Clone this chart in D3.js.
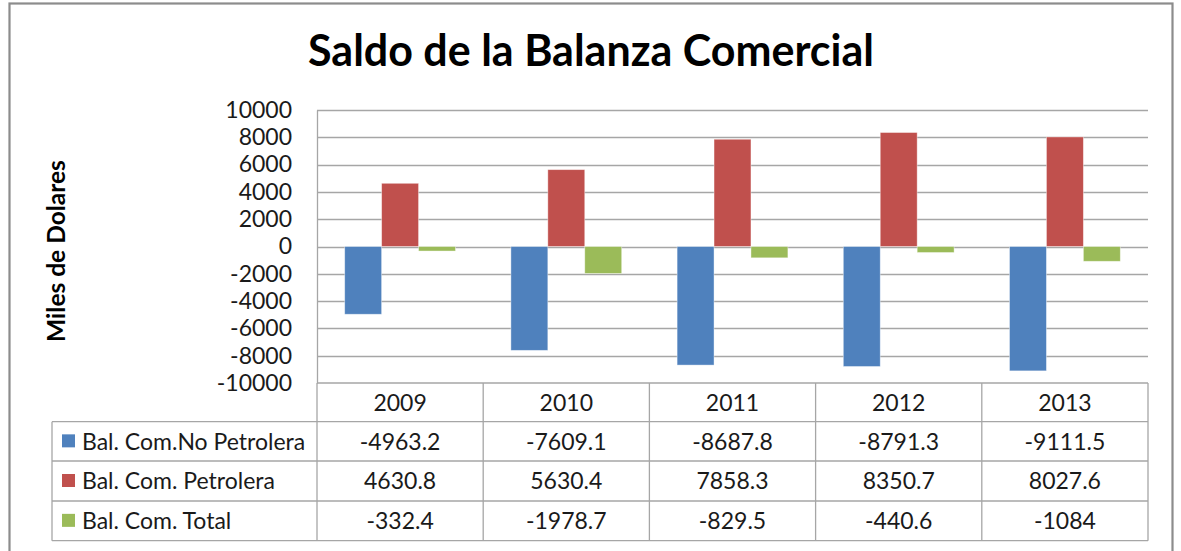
<!DOCTYPE html>
<html>
<head>
<meta charset="utf-8">
<script src="https://cdn.jsdelivr.net/npm/d3@7"></script>
<style>
	body { margin: 0; background: #fff; }
	svg { display: block; font-family: Lato, "Noto Sans", sans-serif; }
	.grid line { stroke: #a6a6a6; stroke-width: 1.3px; }
	.tbl line { stroke: #a6a6a6; stroke-width: 1.3px; }
</style>
</head>
<body>
<div id="chart"></div>
<script>
var years = ["2009", "2010", "2011", "2012", "2013"];
var seriesNames = ["Bal. Com.No Petrolera", "Bal. Com. Petrolera", "Bal. Com. Total"];
var noPetrolera = [-4963.2, -7609.1, -8687.8, -8791.3, -9111.5];
var petrolera = [4630.8, 5630.4, 7858.3, 8350.7, 8027.6];
var total = [-332.4, -1978.7, -829.5, -440.6, -1084];
var yTicks = [-10000, -8000, -6000, -4000, -2000, 0, 2000, 4000, 6000, 8000, 10000];
var color = ["#4F81BD", "#C0504D", "#9BBB59"];

var width = 1181;
var height = 551;
var fontSize = "23px";

function draw() {
	var values = [noPetrolera, petrolera, total];

	var plot = {left: 317, right: 1148, top: 110, bottom: 383};
	var rowTops = [383, 421.7, 461, 501, 540.7];
	var legendLeft = 52;

	var svg = d3.select("#chart").append("svg")
		.attr("width", width)
		.attr("height", height);

	// outer frame
	svg.append("rect")
		.attr("x", 9.5).attr("y", 3.5)
		.attr("width", 1163).attr("height", 560)
		.attr("fill", "none")
		.attr("stroke", "#8c8c8c")
		.attr("stroke-width", 2.2);

	/* Scales */
	var x0 = d3.scaleBand()
		.domain(years)
		.range([plot.left, plot.right])
		.padding(0);

	var groupW = x0.bandwidth() * 3 / 4.5;
	var x1 = d3.scaleBand()
		.domain(d3.range(seriesNames.length))
		.range([(x0.bandwidth() - groupW) / 2, (x0.bandwidth() + groupW) / 2]);

	var y = d3.scaleLinear()
		.domain([-10000, 10000])
		.range([plot.bottom, plot.top]);

	/* gridlines */
	svg.append("g")
		.attr("class", "grid")
		.selectAll("line")
		.data(yTicks.filter(d => d > -10000)).enter()
		.append("line")
		.attr("x1", plot.left)
		.attr("x2", plot.right)
		.attr("y1", d => Math.round(y(d)) + 0.5)
		.attr("y2", d => Math.round(y(d)) + 0.5);

	/* bars */
	var groups = svg.append("g")
		.selectAll("g")
		.data(years).enter()
		.append("g")
		.attr("transform", d => `translate(${x0(d)},0)`);

	groups.selectAll("rect")
		.data((d, i) => values.map((v, s) => ({s: s, v: v[i]}))).enter()
		.append("rect")
		.attr("x", d => x1(d.s))
		.attr("width", x1.bandwidth())
		.attr("y", d => y(Math.max(0, d.v)))
		.attr("height", d => Math.abs(y(d.v) - y(0)))
		.attr("fill", d => color[d.s])
		.attr("stroke", "rgba(255,255,255,0.5)")
		.attr("stroke-width", 0.8);

	/* y axis */
	var yAxis = d3.axisLeft(y)
		.tickValues(yTicks)
		.tickFormat(d => String(d))
		.tickSize(0)
		.tickPadding(25);

	var ax = svg.append("g")
		.attr("transform", `translate(${plot.left},0)`)
		.call(yAxis);
	ax.select(".domain").attr("stroke", "#a6a6a6").attr("stroke-width", 1.3);
	ax.selectAll("text")
		.attr("font-family", "Lato, 'Noto Sans', sans-serif")
		.attr("font-size", fontSize)
		.attr("fill", "#1a1a1a");

	/* titles */
	svg.append("text")
		.attr("x", 591)
		.attr("y", 66)
		.attr("text-anchor", "middle")
		.attr("font-weight", "bold")
		.attr("font-size", "43px")
		.attr("fill", "#000")
		.text("Saldo de la Balanza Comercial");

	svg.append("text")
		.attr("transform", "translate(65,251) rotate(-90)")
		.attr("text-anchor", "middle")
		.attr("font-weight", "bold")
		.attr("font-size", "24.5px")
		.attr("fill", "#000")
		.text("Miles de Dolares");

	/* data table */
	var tbl = svg.append("g").attr("class", "tbl");

	// horizontal lines
	tbl.append("line")
		.attr("x1", plot.left).attr("x2", plot.right)
		.attr("y1", rowTops[0]).attr("y2", rowTops[0]);
	tbl.selectAll("line.h")
		.data(rowTops.slice(1)).enter()
		.append("line")
		.attr("class", "h")
		.attr("x1", legendLeft).attr("x2", plot.right)
		.attr("y1", d => d).attr("y2", d => d);

	// vertical lines
	tbl.append("line")
		.attr("x1", legendLeft).attr("x2", legendLeft)
		.attr("y1", rowTops[1]).attr("y2", rowTops[4]);
	tbl.selectAll("line.v")
		.data(years.map(d => x0(d)).concat([plot.right])).enter()
		.append("line")
		.attr("class", "v")
		.attr("x1", d => d).attr("x2", d => d)
		.attr("y1", rowTops[0]).attr("y2", rowTops[4]);

	// year headers
	tbl.selectAll("text.year")
		.data(years).enter()
		.append("text")
		.attr("class", "year")
		.attr("x", d => x0(d) + x0.bandwidth() / 2)
		.attr("y", (rowTops[0] + rowTops[1]) / 2)
		.attr("dy", "0.36em")
		.attr("text-anchor", "middle")
		.attr("font-size", fontSize)
		.attr("fill", "#1a1a1a")
		.text(d => d);

	// series rows
	var rows = tbl.selectAll("g.row")
		.data(seriesNames).enter()
		.append("g")
		.attr("class", "row")
		.attr("transform", (d, i) => `translate(0,${(rowTops[i + 1] + rowTops[i + 2]) / 2})`);

	rows.append("rect")
		.attr("x", 62)
		.attr("y", -7)
		.attr("width", 13)
		.attr("height", 13)
		.attr("fill", (d, i) => color[i]);

	rows.append("text")
		.attr("x", 82)
		.attr("dy", "0.36em")
		.attr("font-size", fontSize)
		.attr("fill", "#1a1a1a")
		.text(d => d);

	rows.selectAll("text.val")
		.data((d, i) => values[i].map((v, j) => ({year: years[j], v: v}))).enter()
		.append("text")
		.attr("class", "val")
		.attr("x", d => x0(d.year) + x0.bandwidth() / 2)
		.attr("dy", "0.36em")
		.attr("text-anchor", "middle")
		.attr("font-size", fontSize)
		.attr("fill", "#1a1a1a")
		.text(d => String(d.v));
}

draw();
</script>
</body>
</html>
